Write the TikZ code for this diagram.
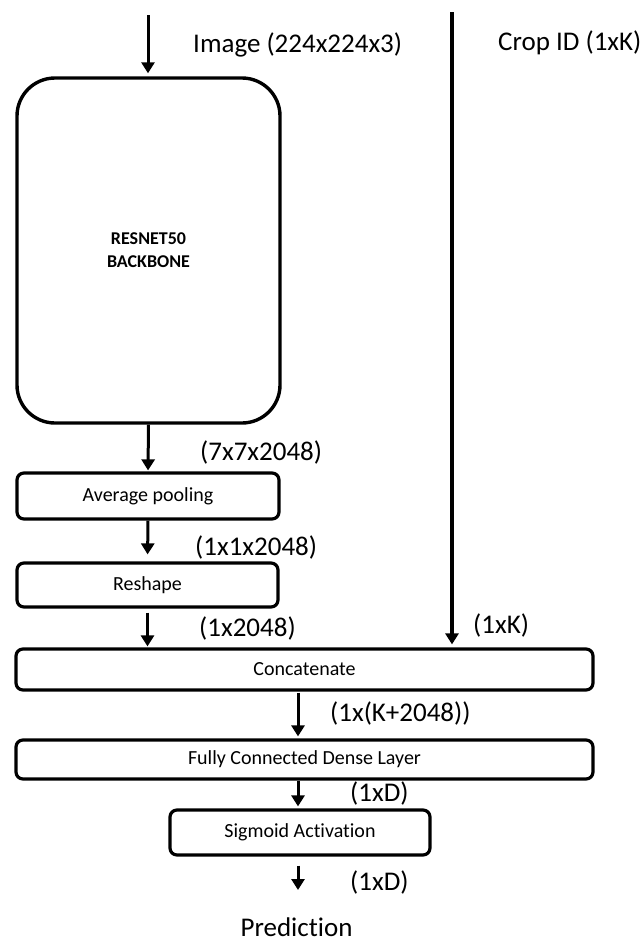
\documentclass[tikz,border=0pt]{standalone}
\usepackage{fontspec}
\setmainfont{Carlito}[Ligatures=NoCommon]
\usetikzlibrary{arrows.meta}
\begin{document}
\begin{tikzpicture}[x=1pt,y=-1pt,
  box/.style={draw, line width=3.2pt, rounded corners=7pt, inner sep=0pt, font=\fontsize{20}{22}\selectfont},
  lab/.style={inner sep=0pt, anchor=west, font=\fontsize{27}{30}\selectfont},
  arr/.style={line width=3pt, -{Triangle[length=11pt,width=13pt]}}]
\useasboundingbox (0,0) rectangle (644,945);
\node[box, rounded corners=38pt, line width=3.4pt, minimum width=263pt, minimum height=345pt, align=center, font=\fontsize{18}{23}\selectfont\bfseries] (bb) at (148.5,250.5) {RESNET50\\BACKBONE};
\node[box, minimum width=262pt, minimum height=46pt] (avg) at (148,496) {Average pooling};
\node[box, minimum width=261pt, minimum height=44pt] (resh) at (147.5,585) {Reshape};
\node[box, minimum width=577pt, minimum height=41pt] (concat) at (304.5,669.5) {Concatenate};
\node[box, minimum width=577pt, minimum height=39pt] (dense) at (304.5,759.5) {Fully Connected Dense Layer};
\node[box, minimum width=260pt, minimum height=45pt] (sig) at (300,832.5) {Sigmoid Activation};
% labels
\node[lab] (limg) at (193,45) {Image (224x224x3)};
\node[lab] (lcrop) at (498,43) {Crop ID (1xK)};
\node[lab] (l1) at (200,452) {(7x7x2048)};
\node[lab] (l2) at (195,547) {(1x1x2048)};
\node[lab] (l3) at (199,628) {(1x2048)};
\node[lab] (l4) at (473,625) {(1xK)};
\node[lab] (l5) at (330,713) {(1x(K+2048))};
\node[lab] (l6) at (350,793) {(1xD)};
\node[lab] (l7) at (350,882) {(1xD)};
\node[inner sep=0pt, font=\fontsize{27}{30}\selectfont] (pred) at (296.5,927) {Prediction};
% coordinates
\coordinate (t1) at (148,15);
\coordinate (t2) at (452,12);
\coordinate (c4) at (298,0);
\coordinate (e6) at (298,890);
% arrows
\draw[arr, shorten >=3pt] (t1) -- (t1 |- bb.north);
\draw[arr, shorten >=1pt] (bb.south) -- (avg.north);
\draw[arr, shorten >=7pt] (avg.south) -- (resh.north);
\draw[arr, shorten <=4pt, shorten >=1pt] (resh.south) -- (resh.south |- concat.north);
\draw[arr, line width=3.5pt, shorten >=3pt] (t2) -- (t2 |- concat.north);
\draw[arr, shorten <=1pt, shorten >=2pt] (concat.south -| c4) -- (dense.north -| c4);
\draw[arr, shorten >=2pt] (dense.south -| c4) -- (sig.north -| c4);
\draw[arr, shorten <=9pt] (sig.south -| e6) -- (e6);
\end{tikzpicture}
\end{document}
